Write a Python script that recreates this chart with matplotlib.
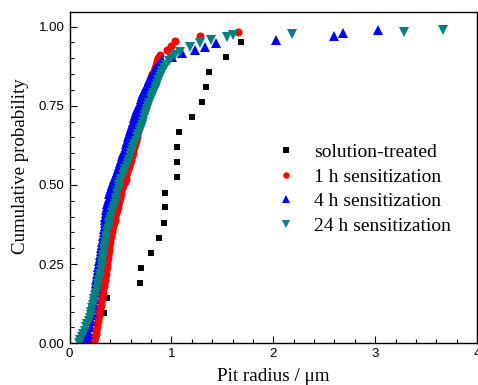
import numpy as np
import matplotlib
matplotlib.use("Agg")
import matplotlib.pyplot as plt

# ---------------- data ----------------
# solution-treated
st_r = [0.34, 0.37, 0.69, 0.70, 0.80, 0.875, 0.93, 0.94, 0.94, 1.06,
        1.06, 1.06, 1.07, 1.20, 1.30, 1.34, 1.37, 1.54, 1.685]
st_p = [0.095, 0.143, 0.190, 0.238, 0.286, 0.333, 0.381, 0.429, 0.476, 0.524,
        0.571, 0.619, 0.667, 0.714, 0.762, 0.810, 0.857, 0.905, 0.952]

# 1 h sensitization
h1_r = [0.240, 0.245, 0.250, 0.258, 0.260, 0.268, 0.270, 0.278, 0.280, 0.287,
        0.290, 0.298, 0.305, 0.310, 0.315, 0.322, 0.325, 0.333, 0.335, 0.342,
        0.345, 0.352, 0.355, 0.362, 0.365, 0.368, 0.370, 0.378, 0.380, 0.384,
        0.385, 0.392, 0.395, 0.402, 0.405, 0.413, 0.420, 0.428, 0.435, 0.443,
        0.450, 0.458, 0.465, 0.473, 0.480, 0.488, 0.495, 0.503, 0.510, 0.520,
        0.530, 0.540, 0.550, 0.558, 0.565, 0.575, 0.585, 0.592, 0.600, 0.610,
        0.620, 0.627, 0.635, 0.643, 0.650, 0.658, 0.665, 0.673, 0.680, 0.685,
        0.690, 0.695, 0.700, 0.708, 0.715, 0.722, 0.730, 0.738, 0.745, 0.755,
        0.765, 0.775, 0.785, 0.792, 0.800, 0.812, 0.825, 0.838, 0.850, 0.860,
        0.870, 0.885, 0.960, 1.000, 1.040, 1.280, 1.650]
h1_p = [0.00, 0.01, 0.02, 0.03, 0.04, 0.05, 0.06, 0.07, 0.08, 0.09,
        0.10, 0.11, 0.12, 0.13, 0.14, 0.15, 0.16, 0.17, 0.18, 0.19,
        0.20, 0.21, 0.22, 0.23, 0.24, 0.25, 0.26, 0.27, 0.28, 0.29,
        0.30, 0.31, 0.32, 0.33, 0.34, 0.35, 0.36, 0.37, 0.38, 0.39,
        0.40, 0.41, 0.42, 0.43, 0.44, 0.45, 0.46, 0.47, 0.48, 0.49,
        0.50, 0.51, 0.52, 0.53, 0.54, 0.55, 0.56, 0.57, 0.58, 0.59,
        0.60, 0.61, 0.62, 0.63, 0.64, 0.65, 0.66, 0.67, 0.68, 0.69,
        0.70, 0.71, 0.72, 0.73, 0.74, 0.75, 0.76, 0.77, 0.78, 0.79,
        0.80, 0.81, 0.82, 0.83, 0.84, 0.85, 0.86, 0.87, 0.88, 0.89,
        0.90, 0.91, 0.926, 0.94, 0.956, 0.970, 0.984]

# 4 h sensitization
h4_r = [0.160, 0.163, 0.170, 0.178, 0.185, 0.190, 0.195, 0.200, 0.205, 0.213,
        0.220, 0.225, 0.230, 0.235, 0.240, 0.245, 0.250, 0.256, 0.260, 0.263,
        0.265, 0.268, 0.270, 0.276, 0.280, 0.285, 0.290, 0.295, 0.300, 0.305,
        0.310, 0.315, 0.320, 0.325, 0.330, 0.335, 0.340, 0.345, 0.348, 0.350,
        0.352, 0.356, 0.360, 0.366, 0.372, 0.378, 0.385, 0.392, 0.398, 0.405,
        0.415, 0.428, 0.440, 0.452, 0.465, 0.475, 0.485, 0.495, 0.505, 0.518,
        0.530, 0.540, 0.550, 0.557, 0.565, 0.575, 0.585, 0.592, 0.600, 0.612,
        0.625, 0.635, 0.645, 0.655, 0.665, 0.678, 0.690, 0.700, 0.710, 0.725,
        0.740, 0.755, 0.770, 0.785, 0.800, 0.815, 0.830, 0.850, 0.870, 0.910,
        1.010, 1.100, 1.230, 1.330, 1.440, 2.030, 2.600, 2.680, 3.030]
h4_p = [0.00, 0.01, 0.02, 0.03, 0.04, 0.05, 0.06, 0.07, 0.08, 0.09,
        0.10, 0.11, 0.12, 0.13, 0.14, 0.15, 0.16, 0.17, 0.18, 0.19,
        0.20, 0.21, 0.22, 0.23, 0.24, 0.25, 0.26, 0.27, 0.28, 0.29,
        0.30, 0.31, 0.32, 0.33, 0.34, 0.35, 0.36, 0.37, 0.38, 0.39,
        0.40, 0.41, 0.42, 0.43, 0.44, 0.45, 0.46, 0.47, 0.48, 0.49,
        0.50, 0.51, 0.52, 0.53, 0.54, 0.55, 0.56, 0.57, 0.58, 0.59,
        0.60, 0.61, 0.62, 0.63, 0.64, 0.65, 0.66, 0.67, 0.68, 0.69,
        0.70, 0.71, 0.72, 0.73, 0.74, 0.75, 0.76, 0.77, 0.78, 0.79,
        0.80, 0.81, 0.82, 0.83, 0.84, 0.85, 0.86, 0.87, 0.88, 0.895,
        0.905, 0.917, 0.926, 0.937, 0.948, 0.958, 0.970, 0.980, 0.990]

# 24 h sensitization
h24_r = [0.090, 0.105, 0.120, 0.135, 0.150, 0.163, 0.175, 0.188, 0.200, 0.208,
         0.215, 0.222, 0.230, 0.238, 0.245, 0.253, 0.260, 0.268, 0.275, 0.283,
         0.290, 0.295, 0.300, 0.308, 0.315, 0.318, 0.320, 0.325, 0.330, 0.335,
         0.340, 0.345, 0.350, 0.355, 0.360, 0.368, 0.375, 0.383, 0.390, 0.398,
         0.405, 0.415, 0.425, 0.435, 0.445, 0.453, 0.460, 0.468, 0.475, 0.483,
         0.490, 0.500, 0.510, 0.523, 0.535, 0.548, 0.560, 0.570, 0.580, 0.590,
         0.600, 0.613, 0.625, 0.638, 0.650, 0.663, 0.675, 0.688, 0.700, 0.710,
         0.720, 0.730, 0.740, 0.750, 0.760, 0.773, 0.785, 0.798, 0.810, 0.823,
         0.835, 0.848, 0.860, 0.873, 0.885, 0.898, 0.910, 0.930, 0.950, 0.975,
         1.000, 1.040, 1.080, 1.180, 1.280, 1.390, 1.550, 1.600, 2.180, 3.280,
         3.670]
h24_p = [0.00, 0.01, 0.02, 0.03, 0.04, 0.05, 0.06, 0.07, 0.08, 0.09,
         0.10, 0.11, 0.12, 0.13, 0.14, 0.15, 0.16, 0.17, 0.18, 0.19,
         0.20, 0.21, 0.22, 0.23, 0.24, 0.25, 0.26, 0.27, 0.28, 0.29,
         0.30, 0.31, 0.32, 0.33, 0.34, 0.35, 0.36, 0.37, 0.38, 0.39,
         0.40, 0.41, 0.42, 0.43, 0.44, 0.45, 0.46, 0.47, 0.48, 0.49,
         0.50, 0.51, 0.52, 0.53, 0.54, 0.55, 0.56, 0.57, 0.58, 0.59,
         0.60, 0.61, 0.62, 0.63, 0.64, 0.65, 0.66, 0.67, 0.68, 0.69,
         0.70, 0.71, 0.72, 0.73, 0.74, 0.75, 0.76, 0.77, 0.78, 0.79,
         0.80, 0.81, 0.82, 0.83, 0.84, 0.85, 0.86, 0.87, 0.88, 0.89,
         0.90, 0.91, 0.92, 0.937, 0.948, 0.958, 0.968, 0.974, 0.977, 0.983,
         0.990]

labels = ["solution-treated", "1 h sensitization", "4 h sensitization", "24 h sensitization"]

serif = "Liberation Serif"
sans = "Liberation Sans"

fig = plt.figure(figsize=(4.78, 3.85), dpi=100)
ax = fig.add_axes([69.5 / 478, 41.7 / 385, (477 - 69.5) / 478, (373.3 - 41.7) / 385])

ax.plot(st_r, st_p, "s", color="black", ms=4.8, mew=0, label=labels[0])
ax.plot(h1_r, h1_p, "o", color="#ff0000", ms=5.8, mew=0, label=labels[1])
ax.plot(h4_r, h4_p, "^", color="#0000ff", ms=6.5, mew=0, label=labels[2])
ax.plot(h24_r, h24_p, "v", color="#008080", ms=6.5, mew=0, label=labels[3])

ax.set_xlim(0, 4)
ax.set_ylim(0, 1.047)
ax.set_xticks([0, 1, 2, 3, 4])
ax.set_xticks(np.arange(0, 4.01, 0.2), minor=True)
ax.set_yticks([0, 0.25, 0.5, 0.75, 1.0])
ax.set_yticks(np.arange(0, 1.01, 0.05), minor=True)
ax.set_yticklabels(["0.00", "0.25", "0.50", "0.75", "1.00"])
ax.tick_params(which="both", direction="in", top=False, right=False)
ax.tick_params(which="major", length=5, width=0.8, labelsize=9.5)
ax.tick_params(which="minor", length=3, width=0.8)
for t in ax.get_xticklabels() + ax.get_yticklabels():
    t.set_fontfamily(sans)
for s in ax.spines.values():
    s.set_linewidth(1.0)

ax.set_xlabel("Pit radius / \u03bcm", fontfamily=serif, fontsize=13.8, labelpad=6)
ax.set_ylabel("Cumulative probability", fontfamily=serif, fontsize=13.6)
ax.yaxis.set_label_coords(-0.099, 0.535)

ax.legend(loc="upper left", bbox_to_anchor=(0.47, 0.65), frameon=False,
          prop={"family": serif, "size": 14}, markerscale=0.8,
          handlelength=1.0, handletextpad=0.95, labelspacing=0.36, numpoints=1,
          borderpad=0.3)

fig.savefig("out.png", dpi=100)
